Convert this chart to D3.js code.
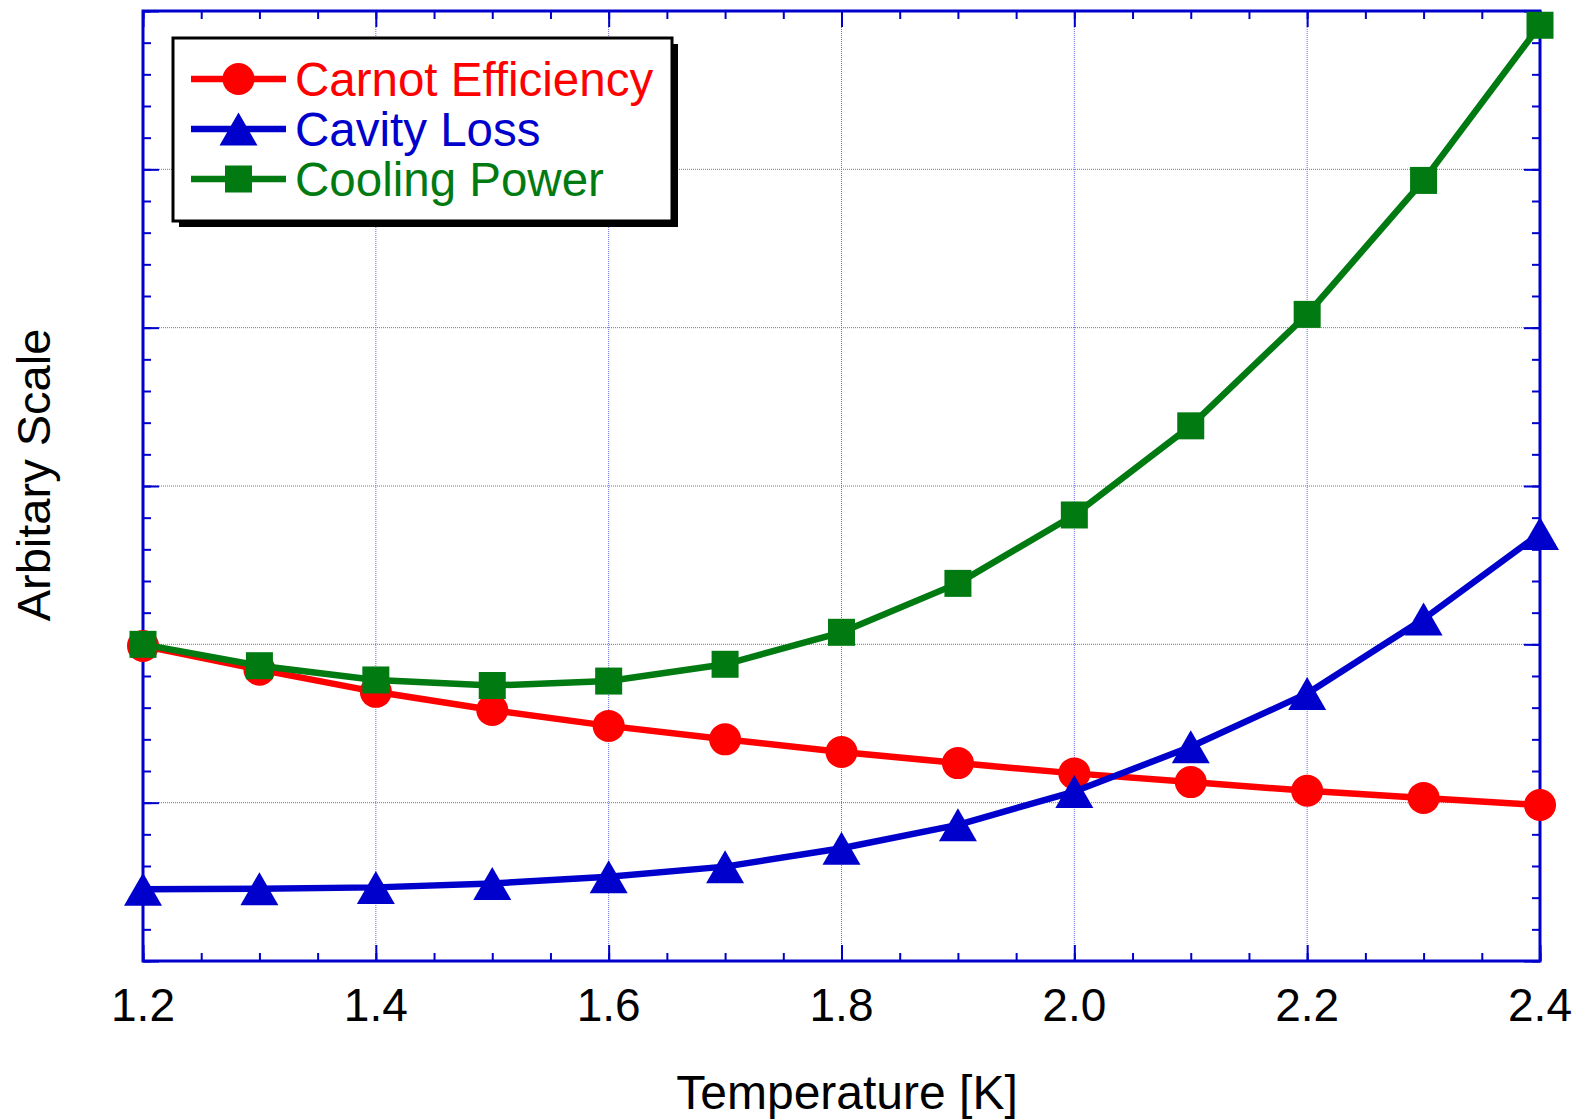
<!DOCTYPE html>
<html>
<head>
<meta charset="utf-8">
<script src="https://cdn.jsdelivr.net/npm/d3@7"></script>
<style>
  body { margin: 0; background: #fff; }
  svg { display: block; font-family: "Liberation Sans", Arial, sans-serif; }
</style>
</head>
<body>
<script>
// temperatures [K]
var temps = [1.2, 1.3, 1.4, 1.5, 1.6, 1.7, 1.8, 1.9, 2.0, 2.1, 2.2, 2.3, 2.4];

// values, arbitrary units
var carnot  = [1.99, 1.84, 1.70, 1.585, 1.485, 1.40, 1.32, 1.25, 1.185, 1.13, 1.075, 1.03, 0.985];
var cavity  = [0.453, 0.457, 0.465, 0.49, 0.532, 0.596, 0.712, 0.86, 1.07, 1.353, 1.69, 2.16, 2.70];
var cooling = [2.0, 1.865, 1.775, 1.74, 1.768, 1.874, 2.076, 2.385, 2.817, 3.38, 4.084, 4.93, 5.91];

var x_labels = ["1.2", "1.4", "1.6", "1.8", "2.0", "2.2", "2.4"];
var series_names = ["Carnot Efficiency", "Cavity Loss", "Cooling Power"];

var svg_width = 1575;
var svg_height = 1120;

var left = 143, right = 1540, top_y = 11, bottom = 961;

var frame_blue = "#0000cc";
var red = "#ff0000", blue = "#0000cc", green = "#027a12";

var svg = d3.select("body")
    .append("svg")
    .attr("width", svg_width)
    .attr("height", svg_height);

var x_scale = d3.scaleLinear().domain([1.2, 2.4]).range([left, right]);
var y_scale = d3.scaleLinear().domain([0, 6]).range([bottom, top_y]);

var x_major = x_labels.map(function(d) { return +d; });
var x_minor = d3.range(0, 25).map(function(i) { return 1.2 + i * 0.05; });
var y_major = [0, 1, 2, 3, 4, 5, 6];
var y_minor = d3.range(0, 31).map(function(i) { return i * 0.2; });

// dotted grid
var grid = svg.append("g");
grid.selectAll(".vgrid")
    .data(x_major.slice(1, -1))
    .enter().append("line")
    .attr("x1", function(d) { return x_scale(d); })
    .attr("x2", function(d) { return x_scale(d); })
    .attr("y1", top_y).attr("y2", bottom)
    .attr("stroke", "#6a6ae0").attr("stroke-width", 1)
    .attr("stroke-dasharray", "1,1");
grid.selectAll(".hgrid")
    .data(y_major.slice(1, -1))
    .enter().append("line")
    .attr("y1", function(d) { return y_scale(d); })
    .attr("y2", function(d) { return y_scale(d); })
    .attr("x1", left).attr("x2", right)
    .attr("stroke", "#6a6ae0").attr("stroke-width", 1)
    .attr("stroke-dasharray", "1,1");

// ticks on all four sides, pointing inward
function ticks(axis, values, size, transform) {
  var g = svg.append("g")
      .attr("transform", transform)
      .call(axis.tickValues(values).tickSizeInner(-size).tickSizeOuter(0).tickFormat(""));
  g.select(".domain").remove();
  g.selectAll("line").attr("stroke", frame_blue).attr("stroke-width", 2);
  return g;
}

ticks(d3.axisBottom(x_scale), x_minor, 8, "translate(0," + bottom + ")");
ticks(d3.axisBottom(x_scale), x_major, 16, "translate(0," + bottom + ")");
ticks(d3.axisTop(x_scale), x_minor, 8, "translate(0," + top_y + ")");
ticks(d3.axisTop(x_scale), x_major, 16, "translate(0," + top_y + ")");
ticks(d3.axisLeft(y_scale), y_minor, 8, "translate(" + left + ",0)");
ticks(d3.axisLeft(y_scale), y_major, 16, "translate(" + left + ",0)");
ticks(d3.axisRight(y_scale), y_minor, 8, "translate(" + right + ",0)");
ticks(d3.axisRight(y_scale), y_major, 16, "translate(" + right + ",0)");

// frame
svg.append("rect")
    .attr("x", left).attr("y", top_y)
    .attr("width", right - left).attr("height", bottom - top_y)
    .attr("fill", "none").attr("stroke", frame_blue).attr("stroke-width", 3);

// x tick labels
svg.append("g").selectAll("text")
    .data(x_labels)
    .enter().append("text")
    .attr("x", function(d) { return x_scale(+d); })
    .attr("y", 1021)
    .attr("text-anchor", "middle")
    .attr("font-size", 46)
    .text(function(d) { return d; });

// axis titles
svg.append("text")
    .attr("x", 847).attr("y", 1109)
    .attr("text-anchor", "middle")
    .attr("font-size", 48)
    .text("Temperature [K]");

svg.append("text")
    .attr("transform", "translate(50,475) rotate(-90)")
    .attr("text-anchor", "middle")
    .attr("font-size", 47)
    .text("Arbitary Scale");

// marker drawing
function triangle_path(cx, cy) {
  var w = 38, h = 33;
  return "M" + cx + "," + (cy - h / 2) + "L" + (cx + w / 2) + "," + (cy + h / 2) +
         "L" + (cx - w / 2) + "," + (cy + h / 2) + "Z";
}

function draw_marker(g, kind, cx, cy, color) {
  if (kind == "circle") {
    g.append("circle").attr("cx", cx).attr("cy", cy).attr("r", 16).attr("fill", color);
  }
  else if (kind == "square") {
    g.append("rect").attr("x", cx - 13.5).attr("y", cy - 13.5)
      .attr("width", 27).attr("height", 27).attr("fill", color);
  }
  else {
    g.append("path").attr("d", triangle_path(cx, cy)).attr("fill", color);
  }
}

var line = d3.line()
    .x(function(d) { return x_scale(d[0]); })
    .y(function(d) { return y_scale(d[1]); });

function draw_series(values, color, kind) {
  var pts = temps.map(function(t, i) { return [t, values[i]]; });
  var g = svg.append("g");
  g.append("path")
      .datum(pts)
      .attr("d", line)
      .attr("fill", "none")
      .attr("stroke", color)
      .attr("stroke-width", 6.5)
      .attr("stroke-linejoin", "round");
  pts.forEach(function(p) {
    draw_marker(g, kind, x_scale(p[0]), y_scale(p[1]), color);
  });
}

draw_series(carnot, red, "circle");
draw_series(cooling, green, "square");
draw_series(cavity, blue, "triangle");

// legend with drop shadow
var legend = svg.append("g");
legend.append("rect")
    .attr("x", 179).attr("y", 44).attr("width", 499).attr("height", 183)
    .attr("fill", "#000");
legend.append("rect")
    .attr("x", 173).attr("y", 38).attr("width", 499).attr("height", 183)
    .attr("fill", "#fff").attr("stroke", "#000").attr("stroke-width", 3);

var legend_colors = [red, blue, green];
var legend_kinds = ["circle", "triangle", "square"];
var legend_rows = [79, 129, 179];

series_names.forEach(function(name, i) {
  var y = legend_rows[i];
  legend.append("line")
      .attr("x1", 191).attr("x2", 286).attr("y1", y).attr("y2", y)
      .attr("stroke", legend_colors[i]).attr("stroke-width", 6.5);
  draw_marker(legend, legend_kinds[i], 238.5, y, legend_colors[i]);
  legend.append("text")
      .attr("x", 295).attr("y", y + 17)
      .attr("font-size", 47.5)
      .attr("fill", legend_colors[i])
      .text(name);
});
</script>
</body>
</html>
